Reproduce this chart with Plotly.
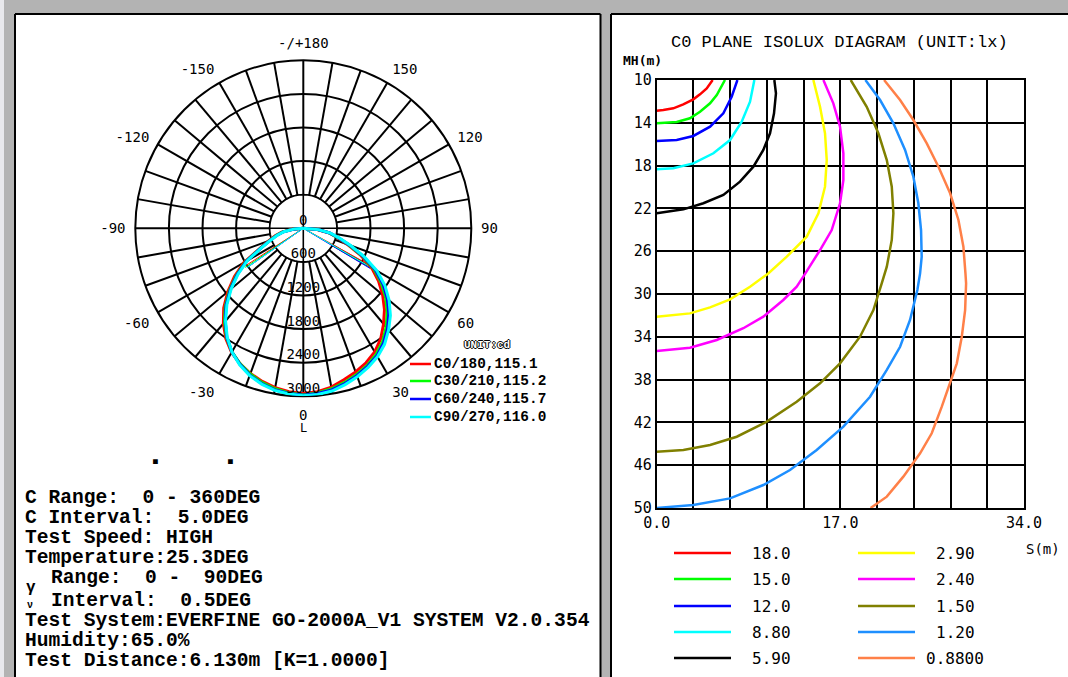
import plotly.graph_objects as go

W, H = 1068, 677

# ---------------- polar (luminous intensity, cd) ----------------
gamma = [-90, -85, -80, -75, -70, -65, -60, -55, -50, -45, -40, -35, -30, -25, -20, -15, -10, -5, 0,
         5, 10, 15, 20, 25, 30, 35, 40, 45, 50, 55, 60, 65, 70, 75, 80, 85, 90]
c0_180 = [0, 200, 390, 520, 660, 860, 1230, 1500, 1760, 2010, 2220, 2410, 2560, 2670, 2760, 2830, 2890, 2930, 2950,
          2930, 2880, 2800, 2730, 2650, 2550, 2410, 2230, 2050, 1850, 1640, 1410, 1120, 830, 620, 460, 250, 0]
c30_210 = [0, 190, 370, 500, 640, 840, 1190, 1460, 1720, 1970, 2190, 2390, 2550, 2670, 2770, 2850, 2910, 2950, 2970,
           2950, 2910, 2850, 2780, 2700, 2600, 2470, 2300, 2120, 1920, 1700, 1460, 1160, 860, 640, 470, 260, 0]
c60_240 = [0, 180, 360, 490, 630, 830, 1170, 1440, 1700, 1950, 2170, 2380, 2550, 2680, 2790, 2870, 2930, 2960, 2980,
           2960, 2930, 2870, 2800, 2720, 2630, 2500, 2340, 2160, 1960, 1740, 1490, 1180, 880, 650, 480, 260, 0]
c90_270 = [0, 170, 350, 480, 620, 820, 1150, 1420, 1680, 1930, 2160, 2370, 2550, 2690, 2800, 2880, 2940, 2970, 2990,
           2980, 2950, 2890, 2820, 2740, 2650, 2530, 2370, 2200, 2000, 1780, 1520, 1200, 900, 660, 490, 270, 0]
polar_series = [c0_180, c30_210, c60_240, c90_270]
polar_names = ["C0/180,115.1", "C30/210,115.2", "C60/240,115.7", "C90/270,116.0"]
polar_colors = ["#ff0000", "#00ff00", "#0000ff", "#00ffff"]
chord_left_gamma = [-57, -56, -55, -55]
chord_left_cd = [1290, 1250, 1230, 1220]
chord_right_gamma = [61, 60, 59, 60]
chord_right_cd = [1360, 1380, 1400, 1420]
ring_values = [0, 600, 1200, 1800, 2400, 3000]
ring_labels = ["0", "600", "1200", "1800", "2400", "3000"]
angle_grid = list(range(0, 360, 10))
angle_label_map = {0: "0", 30: "30", 60: "60", 90: "90", 120: "120", 150: "150", 180: "-/+180",
                   210: "-150", 240: "-120", 270: "-90", 300: "-60", 330: "-30"}

# ---------------- isolux (lx) ----------------
iso_levels = ["18.0", "15.0", "12.0", "8.80", "5.90", "2.90", "2.40", "1.50", "1.20", "0.8800"]
iso_colors = ["#ff0000", "#00ff00", "#0000ff", "#00ffff", "#000000",
              "#ffff00", "#ff00ff", "#808000", "#1e8fff", "#ff8048"]
iso_18_s = [5.18, 4.63, 4.01, 3.39, 2.46, 1.54, 0.61, 0.0]
iso_18_mh = [10.0, 10.78, 11.34, 11.81, 12.28, 12.65, 12.8, 12.87]
iso_15_s = [6.32, 5.56, 4.94, 4.01, 3.08, 1.85, 0.0]
iso_15_mh = [10.0, 11.4, 12.18, 12.96, 13.58, 13.93, 14.05]
iso_12_s = [7.47, 6.94, 6.17, 4.94, 3.39, 1.85, 0.0]
iso_12_mh = [10.0, 11.56, 13.11, 14.36, 15.23, 15.61, 15.7]
iso_88_s = [9.04, 8.64, 7.87, 6.79, 5.25, 3.39, 1.54, 0.0]
iso_88_mh = [10.0, 12.03, 13.9, 15.61, 16.85, 17.79, 18.25, 18.35]
iso_59_s = [10.89, 11.04, 10.86, 10.49, 9.87, 8.95, 7.71, 6.17, 4.32, 2.47, 0.0]
iso_59_mh = [10.0, 11.25, 13.11, 14.98, 16.54, 18.1, 19.5, 20.75, 21.52, 22.09, 22.46]
iso_29_s = [14.5, 15.12, 15.58, 15.74, 15.58, 14.97, 13.89, 12.04, 10.3, 8.64, 6.79, 4.94, 3.08, 0.0]
iso_29_mh = [10.0, 12.5, 14.98, 17.48, 19.97, 22.46, 24.64, 26.51, 28.1, 29.32, 30.5, 31.25, 31.81, 32.12]
iso_24_s = [15.43, 16.35, 16.97, 17.28, 17.28, 16.97, 16.2, 15.12, 13.57, 12.96, 11.72, 9.87, 8.02, 5.56, 3.08, 0.0]
iso_24_mh = [10.0, 12.18, 14.36, 16.85, 19.35, 21.52, 24.02, 25.89, 28.38, 29.32, 30.56, 32.12, 33.2, 34.3, 35.02, 35.33]
iso_15b_s = [17.96, 19.44, 20.52, 21.3, 21.76, 21.91, 21.76, 21.3, 20.83, 20.06, 18.82, 16.97, 15.12, 12.96,
             10.19, 7.41, 4.94, 2.47, 0.0]
iso_15b_mh = [10.0, 12.5, 14.98, 17.48, 19.97, 22.46, 24.95, 27.45, 29.0, 31.5, 33.99, 36.48, 38.35, 40.07,
              41.93, 43.34, 44.11, 44.58, 44.74]
iso_12b_s = [19.32, 20.68, 21.91, 22.99, 23.76, 24.22, 24.47, 24.53, 24.38, 24.13, 23.45, 22.53, 21.3, 19.75,
             17.28, 14.81, 12.34, 9.87, 6.79, 3.39, 0.0]
iso_12b_mh = [10.0, 11.87, 14.05, 16.54, 19.04, 21.52, 24.02, 26.51, 28.07, 29.63, 32.43, 34.93, 37.1, 39.6,
              42.4, 44.58, 46.45, 47.85, 49.1, 49.72, 50.0]
iso_088_s = [21.05, 22.53, 23.76, 25.0, 26.08, 27.16, 27.93, 28.39, 28.58, 28.64, 28.55, 28.24, 27.78, 27.16,
             26.39, 25.46, 24.38, 22.83, 21.3, 19.8]
iso_088_mh = [10.0, 11.87, 13.74, 15.92, 18.1, 20.59, 23.08, 25.58, 28.07, 29.0, 31.5, 33.99, 36.48, 38.35,
              40.53, 43.02, 44.89, 47.07, 48.94, 50.0]
iso_s = [iso_18_s, iso_15_s, iso_12_s, iso_88_s, iso_59_s, iso_29_s, iso_24_s, iso_15b_s, iso_12b_s, iso_088_s]
iso_mh = [iso_18_mh, iso_15_mh, iso_12_mh, iso_88_mh, iso_59_mh, iso_29_mh, iso_24_mh, iso_15b_mh, iso_12b_mh, iso_088_mh]
s_grid = [0.0, 3.4, 6.8, 10.2, 13.6, 17.0, 20.4, 23.8, 27.2, 30.6, 34.0]
s_labels = ["0.0", "", "", "", "", "17.0", "", "", "", "", "34.0"]
mh_ticks = [10, 14, 18, 22, 26, 30, 34, 38, 42, 46, 50]

info_lines = ["C Range:  0 - 360DEG", "C Interval:  5.0DEG", "Test Speed: HIGH", "Temperature:25.3DEG",
              "Range:  0 -  90DEG", "Interval:  0.5DEG",
              "Test System:EVERFINE GO-2000A_V1 SYSTEM V2.0.354", "Humidity:65.0%",
              "Test Distance:6.130m [K=1.0000]"]
info_x = [24, 24, 24, 24, 50, 50, 24, 24, 24]
info_y = [498, 518, 538, 558, 578, 601, 621, 641, 661]


def px(x):
    return x / W


def py(y):
    return 1 - y / H


MONO = "DejaVu Sans Mono"
COUR = "Liberation Mono"

fig = go.Figure()

# white disc hiding inner spokes, plus the two through-centre lines
inner = ring_values[1]
disc_theta = list(range(0, 361, 5))
fig.add_trace(go.Scatterpolar(r=[inner] * len(disc_theta), theta=disc_theta, mode="lines", fill="toself",
                              fillcolor="white", line=dict(color="black", width=1.6), showlegend=False,
                              hoverinfo="skip"))
for a in (0, 90):
    fig.add_trace(go.Scatterpolar(r=[inner, 0, inner], theta=[a, a, a + 180], mode="lines",
                                  line=dict(color="black", width=1.6), showlegend=False, hoverinfo="skip"))

for i, vals in enumerate(polar_series):
    fig.add_trace(go.Scatterpolar(r=[0, chord_left_cd[i]], theta=[0, chord_left_gamma[i]], mode="lines",
                                  line=dict(color=polar_colors[i], width=1), showlegend=False, hoverinfo="skip"))
    fig.add_trace(go.Scatterpolar(r=[0, chord_right_cd[i]], theta=[0, chord_right_gamma[i]], mode="lines",
                                  line=dict(color=polar_colors[i], width=1), showlegend=False, hoverinfo="skip"))
for i, vals in enumerate(polar_series):
    fig.add_trace(go.Scatterpolar(r=vals, theta=gamma, mode="lines", name=polar_names[i],
                                  line=dict(color=polar_colors[i], width=3), showlegend=False))

fig.add_trace(go.Scatterpolar(r=ring_values, theta=[0] * len(ring_values), mode="text", text=ring_labels,
                              textposition="top center", cliponaxis=False,
                              textfont=dict(family=MONO, size=14, color="black"), showlegend=False,
                              hoverinfo="skip"))

for i in range(len(iso_levels)):
    fig.add_trace(go.Scatter(x=iso_s[i], y=iso_mh[i], mode="lines", name=iso_levels[i],
                             line=dict(color=iso_colors[i], width=2.5), showlegend=False,
                             xaxis="x", yaxis="y"))

BLK = dict(color="black", width=2)
shapes = [
    dict(type="rect", xref="paper", yref="paper", x0=0, x1=px(4), y0=0, y1=1, fillcolor="#e8e8ec",
         line=dict(width=0), layer="below"),
    # left panel
    dict(type="rect", xref="paper", yref="paper", x0=px(15), x1=px(600.5), y0=0, y1=py(14),
         fillcolor="white", line=dict(width=0), layer="below"),
    dict(type="line", xref="paper", yref="paper", x0=px(15), x1=px(15), y0=0, y1=py(14), line=BLK),
    dict(type="line", xref="paper", yref="paper", x0=px(600.5), x1=px(600.5), y0=0, y1=py(14), line=BLK),
    dict(type="line", xref="paper", yref="paper", x0=px(15), x1=px(600.5), y0=py(14), y1=py(14), line=BLK),
    # right panel
    dict(type="rect", xref="paper", yref="paper", x0=px(611), x1=1, y0=0, y1=py(14),
         fillcolor="white", line=dict(width=0), layer="below"),
    dict(type="line", xref="paper", yref="paper", x0=px(611), x1=px(611), y0=0, y1=py(14), line=BLK),
    dict(type="line", xref="paper", yref="paper", x0=px(611), x1=1, y0=py(14), y1=py(14), line=BLK),
]

annotations = []


def ann(text, x, y, size, family=COUR, bold=False, xanchor="left", color="black", **kw):
    annotations.append(dict(text=("<b>%s</b>" % text) if bold else text, x=px(x), y=py(y), xref="paper",
                            yref="paper", showarrow=False, xanchor=xanchor, yanchor="middle", borderpad=0,
                            font=dict(family=family, size=size, color=color, **kw)))


# polar legend
leg_rows = [364, 381, 399, 417]
for i, name in enumerate(polar_names):
    shapes.append(dict(type="line", xref="paper", yref="paper", x0=px(410), x1=px(431), y0=py(leg_rows[i]),
                       y1=py(leg_rows[i]), line=dict(color=polar_colors[i], width=2.5)))
    ann(name, 433, leg_rows[i], 14.4, family=COUR, bold=True)
ann("UNIT:cd", 487, 345, 11, family=COUR, bold=True, xanchor="center", color="white",
    shadow="1px 0 0 #000, -1px 0 0 #000, 0 1px 0 #000, 0 -1px 0 #000")
ann("L", 303, 428, 12, family=MONO, xanchor="center")
ann("■", 155, 461, 8, family=MONO, xanchor="center")
ann("■", 230, 461, 8, family=MONO, xanchor="center")

for t, xx, yy in zip(info_lines, info_x, info_y):
    ann(t, xx, yy, 19.6, family=COUR, bold=True)
ann("γ", 25, 588, 16, family=COUR, bold=True)
ann("ν", 26, 605, 10, family=COUR, bold=True)

# isolux titles & legend
ann("C0 PLANE ISOLUX DIAGRAM (UNIT:lx)", 839, 42, 17, family=COUR, xanchor="center")
ann("MH(m)", 622, 61, 13, family=MONO, bold=True)
ann("S(m)", 1025, 549, 14, family=MONO)
leg_y = [553, 579, 606, 632, 658]
for i, lev in enumerate(iso_levels):
    col, row = divmod(i, 5)
    x0, x1, tx = (674, 731, 771) if col == 0 else (858, 915, 955)
    shapes.append(dict(type="line", xref="paper", yref="paper", x0=px(x0), x1=px(x1), y0=py(leg_y[row]),
                       y1=py(leg_y[row]), line=dict(color=iso_colors[i], width=2.5)))
    ann(lev, tx, leg_y[row], 16, family=MONO, xanchor="center")

fig.update_layout(
    width=W, height=H, autosize=False, margin=dict(l=0, r=0, t=0, b=0, pad=0, autoexpand=False),
    paper_bgcolor="#b3b3b3", plot_bgcolor="white", showlegend=False,
    shapes=shapes, annotations=annotations,
    polar=dict(
        domain=dict(x=[px(135.3), px(471.3)], y=[py(396.3), py(60.3)]),
        bgcolor="white",
        angularaxis=dict(rotation=-90, direction="counterclockwise", tickmode="array", tickvals=angle_grid,
                         ticktext=[angle_label_map.get(a, "") for a in angle_grid], ticks="outside",
                         ticklen=6, tickcolor="rgba(0,0,0,0)",
                         showgrid=True, gridcolor="black", gridwidth=1.6, showline=True, linecolor="black",
                         linewidth=2, layer="below traces",
                         tickfont=dict(family=MONO, size=14, color="black")),
        radialaxis=dict(range=[0, 3000], tickmode="array", tickvals=ring_values[1:-1], showticklabels=False,
                        ticks="", showline=False, showgrid=True, gridcolor="black", gridwidth=1.6,
                        layer="below traces"),
    ),
    xaxis=dict(domain=[px(656.7), px(1024)], range=[0, 34], tickmode="array", tickvals=s_grid,
               ticktext=s_labels, showgrid=True, gridcolor="black", gridwidth=1.6, showline=True, mirror=True,
               linecolor="black", linewidth=2, zeroline=False, ticks="", anchor="y", automargin=False,
               tickfont=dict(family=MONO, size=15, color="black")),
    yaxis=dict(domain=[py(508), py(80)], range=[50, 10], tickmode="array", tickvals=mh_ticks,
               ticktext=[str(v) for v in mh_ticks], showgrid=True, gridcolor="black", gridwidth=1.6,
               showline=True, mirror=True, linecolor="black", linewidth=2, zeroline=False, ticks="",
               anchor="x", automargin=False, tickfont=dict(family=MONO, size=15, color="black")),
)

fig.write_html(
    "out.html",
    config={"displayModeBar": False},
    post_script=("document.body.style.margin='0';document.body.style.overflow='hidden';"
                 "document.documentElement.style.overflow='hidden';"),
)
